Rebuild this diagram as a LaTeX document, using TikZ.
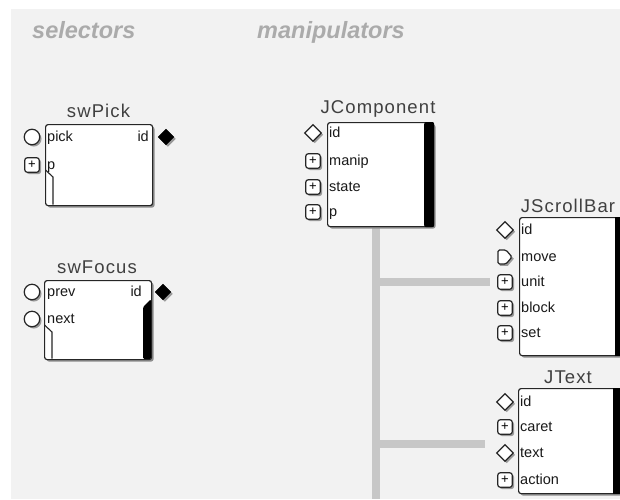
\documentclass[tikz,border=0pt]{standalone}
\usepackage{fontspec}
\setmainfont{Liberation Sans}
\usetikzlibrary{shapes.geometric,shadows,calc}
\tikzset{
  blk/.style={draw=black!85, fill=white, line width=1.2pt, rounded corners=2.5pt,
    anchor=north west, inner sep=0pt,
    drop shadow={shadow xshift=2pt, shadow yshift=-2pt, fill=black!45, opacity=1}},
  ttl/.style={font=\fontsize{18.5}{18.5}\selectfont\addfontfeature{LetterSpace=6}, text=black!75, anchor=base, inner sep=0pt},
  lbl/.style={font=\fontsize{14.5}{14.5}\selectfont, text=black!90, anchor=base west, inner sep=0pt},
  lblr/.style={lbl, anchor=base east},
  hdr/.style={font=\fontsize{23.5}{23.5}\selectfont\bfseries\itshape, text=black!33, anchor=base west, inner sep=0pt},
  psh/.style={drop shadow={shadow xshift=1.8pt, shadow yshift=-1.8pt, fill=black!40, opacity=1}},
  pcirc/.style={circle, draw=black!85, fill=white, line width=1.2pt, minimum size=15.5pt, inner sep=0pt, psh},
  pplus/.style={rectangle, rounded corners=2.5pt, draw=black!85, fill=white, line width=1.2pt,
    minimum size=14.5pt, inner sep=0pt, font=\fontsize{13}{13}\selectfont, psh},
  pdiam/.style={diamond, draw=black!85, fill=white, line width=1.2pt, minimum size=17pt, inner sep=0pt, psh},
  pbdiam/.style={diamond, draw=black, fill=black, minimum size=16pt, inner sep=0pt, psh},
  bar/.style={fill=black},
  tab/.style={draw=black!85, line width=1.1pt},
  tree/.style={draw=black!22, line width=8pt},
}
\begin{document}
\begin{tikzpicture}[x=1pt,y=-1pt]
\clip (0,0) rectangle (620,499);
\fill[white] (0,0) rectangle (620,499);
\fill[black!5] (11,9) rectangle (620,499);

% headers
\node[hdr] (hsel) at (32,38) {selectors};
\node[hdr] (hman) at (257,38) {manipulators};

% tree connectors
\coordinate (trtop) at (376,226);
\coordinate (trbot) at (376,499);
\coordinate (br1s) at (376,282);
\coordinate (br1e) at (490,282);
\coordinate (br2s) at (376,444);
\coordinate (br2e) at (485,444);
\draw[tree] (trtop) -- (trbot);
\draw[tree] (br1s) -- (br1e);
\draw[tree] (br2s) -- (br2e);

% swPick
\node[ttl] (tpick) at (98.5,117) {swPick};
\node[blk, minimum width=107pt, minimum height=81pt] (swpick) at (45,124) {};
\coordinate (pk1) at (45.5,170);
\coordinate (pk2) at (53,177);
\coordinate (pk3) at (53,204.5);
\draw[tab] (pk1) -- (pk2) -- (pk3);
\node[pcirc] (pickp) at (32,137) {};
\node[pplus] (pickpp) at (32,165) {+};
\node[pbdiam] (pickid) at (166,137) {};
\node[lbl] (lpick) at (47,141.5) {pick};
\node[lbl] (lpp) at (47,169.5) {p};
\node[lblr] (lpid) at (149,141.5) {id};

% swFocus
\node[ttl] (tfocus) at (97,273) {swFocus};
\node[blk, minimum width=107pt, minimum height=79pt] (swfocus) at (44,280) {};
\coordinate (fb1) at (151,299);
\coordinate (fb2) at (143,307);
\coordinate (fb3) at (143,359);
\coordinate (fb4) at (151,359);
\fill[bar, rounded corners=1.5pt] (fb1) -- (fb2) -- (fb3) -- (fb4) -- cycle;
\coordinate (fk1) at (44.5,325);
\coordinate (fk2) at (52,332);
\coordinate (fk3) at (52,358.5);
\draw[tab] (fk1) -- (fk2) -- (fk3);
\node[pcirc] (focprev) at (32,292) {};
\node[pcirc] (focnext) at (32,319) {};
\node[pbdiam] (focid) at (163,292) {};
\node[lbl] (lprev) at (47,296.5) {prev};
\node[lbl] (lnext) at (47,323.5) {next};
\node[lblr] (lfid) at (142,296.5) {id};

% JComponent
\node[ttl] (tjc) at (378,113) {JComponent};
\node[blk, minimum width=106pt, minimum height=104pt] (jc) at (327,122) {};
\fill[bar, rounded corners=2pt] ($(jc.north east)+(-10,0)$) rectangle (jc.south east);
\node[pdiam] (jcid) at (313,133) {};
\node[pplus] (jcmanip) at (313,161) {+};
\node[pplus] (jcstate) at (313,187) {+};
\node[pplus] (jcp) at (313,212) {+};
\node[lbl] (ljcid) at (329,137.5) {id};
\node[lbl] (ljcm) at (329,165.5) {manip};
\node[lbl] (ljcs) at (329,191.5) {state};
\node[lbl] (ljcp) at (329,216.5) {p};

% JScrollBar
\node[ttl] (tsb) at (568,212) {JScrollBar};
\node[blk, minimum width=109pt, minimum height=138pt] (sb) at (519,217) {};
\fill[bar] ($(sb.north east)+(-14,0)$) rectangle (sb.south east);
\node[pdiam] (sbid) at (505,230) {};
\node[inner sep=0pt, minimum size=14pt] (sbmove) at (505,257) {};
\fill[black!40] ($(sbmove)+(-5.2,-5.2)$) -- ($(sbmove)+(2.8,-5.2)$) -- ($(sbmove)+(8.8,1.8)$) -- ($(sbmove)+(2.8,8.8)$) -- ($(sbmove)+(-5.2,8.8)$) -- cycle;
\draw[draw=black!85, fill=white, line width=1.2pt, rounded corners=1.5pt] ($(sbmove)+(-7,-7)$) -- ($(sbmove)+(1,-7)$) -- ($(sbmove)+(7,0)$) -- ($(sbmove)+(1,7)$) -- ($(sbmove)+(-7,7)$) -- cycle;
\node[pplus] (sbunit) at (505,282) {+};
\node[pplus] (sbblock) at (505,308) {+};
\node[pplus] (sbset) at (505,333) {+};
\node[lbl] (lsbid) at (521,234.5) {id};
\node[lbl] (lsbmove) at (521,261.5) {move};
\node[lbl] (lsbunit) at (521,286.5) {unit};
\node[lbl] (lsbblock) at (521,312.5) {block};
\node[lbl] (lsbset) at (521,337.5) {set};

% JText
\node[ttl] (tjt) at (568,383) {JText};
\node[blk, minimum width=110pt, minimum height=105pt] (jt) at (518,388) {};
\fill[bar] ($(jt.north east)+(-16,0)$) rectangle (jt.south east);
\node[pdiam] (jtid) at (505,402) {};
\node[pplus] (jtcaret) at (505,427) {+};
\node[pdiam] (jttext) at (505,453) {};
\node[pplus] (jtaction) at (505,480) {+};
\node[lbl] (ljtid) at (520,406.5) {id};
\node[lbl] (ljtcaret) at (520,431.5) {caret};
\node[lbl] (ljttext) at (520,457.5) {text};
\node[lbl] (ljtaction) at (520,484.5) {action};
\end{tikzpicture}
\end{document}
